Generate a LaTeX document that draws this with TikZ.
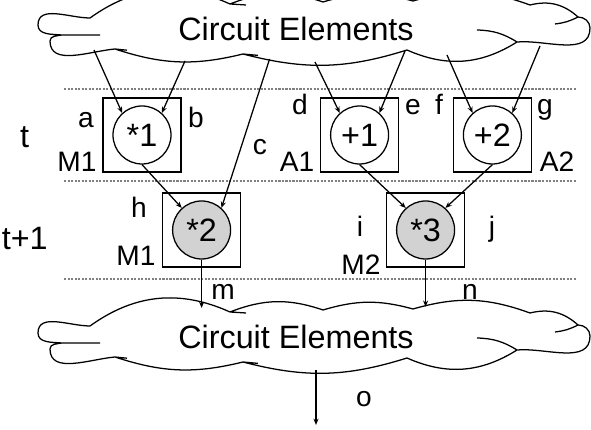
\documentclass[tikz,border=0pt]{standalone}
\usepackage{fontspec}
\setmainfont{Liberation Sans}
\usetikzlibrary{arrows.meta}

% outline of a flat cloud, round the origin
\newcommand{\cloudpath}{%
  (-5.85,-0.15) to[out=175,in=-90] (-6.45,0.1) to[out=90,in=180] (-5.15,0.275)
  to[bend left=30] (-1.65,0.625) to[bend left=20] (0.675,0.675)
  to[bend left=16] (2.925,0.7) to[bend left=18] (5.85,0.6)
  to[bend left=28] (7.05,0.3) to[out=0,in=90] (7.35,0.025)
  to[out=-90,in=5] (5.525,-0.325) to[bend left=28] (2.775,-0.525)
  to[bend left=16] (-1.325,-0.625) to[bend left=16] (-4.525,-0.5)
  to[out=185,in=-90] (-6.15,-0.3) to[out=90,in=190] (-5.85,-0.15)
  (-5.85,-0.15) -- (-4.9,-0.15)
  (7.05,0.3) to[bend left=10] (6.475,0.125)
  (5.525,-0.325) to[bend right=15] (4.525,-0.025)
  (-4.525,-0.5) -- (-4.225,-0.53)
  (-1.65,0.625) -- (-1.25,0.6)
  (-1.325,-0.625) -- (-0.95,-0.66)}

\begin{document}
\begin{tikzpicture}[line width=0.9pt, >={Stealth[length=4.5pt,width=3.6pt]},
  op/.style={circle, draw, minimum size=1.45cm, inner sep=0pt, font=\fontsize{23}{27}\selectfont},
  opbox/.style={draw, minimum width=1.95cm, minimum height=1.85cm},
  lbl/.style={anchor=base, font=\fontsize{20}{24}\selectfont},
  steplbl/.style={anchor=base, font=\fontsize{23}{27}\selectfont},
  ce/.style={inner sep=0pt, font=\fontsize{23}{27}\selectfont},
  level/.style={gray, line width=1pt, dash pattern=on 1.5pt off 1pt}]
  \useasboundingbox (0,0) rectangle (14.775,10.75);

  % clouds
  \node[ce] (top) at (7.4,10.025) {Circuit Elements};
  \node[ce] (bot) at (7.4,2.325) {Circuit Elements};
  \draw[shift={(top.center)}] \cloudpath;
  \draw[shift={(bot.center)}] \cloudpath;

  % time steps
  \draw[level] (1.6,8.525) -- (14.425,8.525);
  \draw[level] (1.6,6.225) -- (14.425,6.225);
  \draw[level] (1.6,3.775) -- (14.425,3.775);

  % functional units
  \node[opbox] (bm1) at (3.55,7.375) {};
  \node[opbox] (ba1) at (8.99,7.375) {};
  \node[opbox] (ba2) at (12.31,7.375) {};
  \node[opbox] (bm2) at (5.04,5.0) {};
  \node[opbox] (bm3) at (10.64,5.0) {};

  \node[op] (m1) at (3.55,7.375) {*1};
  \node[op] (a1) at (8.99,7.375) {+1};
  \node[op] (a2) at (12.31,7.375) {+2};
  \node[op, fill=gray!35] (m2) at (5.04,5.0) {*2};
  \node[op, fill=gray!35] (m3) at (10.64,5.0) {*3};

  % wire ends on the clouds
  \coordinate (s1) at (2.35,9.5);
  \coordinate (s2) at (4.625,9.225);
  \coordinate (s3) at (6.74,9.275);
  \coordinate (s4) at (7.875,9.2);
  \coordinate (s5) at (10.125,9.475);
  \coordinate (s6) at (11.175,9.375);
  \coordinate (s7) at (13.5,9.6);
  \coordinate (e1) at (5.04,3.05);
  \coordinate (e2) at (10.64,3.08);
  \coordinate (o1) at (7.9,1.5);
  \coordinate (o2) at (7.9,0.125);

  \draw[->] (s1) -- (m1.132);
  \draw[->] (s2) -- (m1.48);
  \draw[->] (s4) -- (a1.132);
  \draw[->] (s5) -- (a1.48);
  \draw[->] (s6) -- (a2.132);
  \draw[->] (s7) -- (a2.48);
  \draw[->] (m1.south) -- (m2.132);
  \draw[->] (s3) -- (m2.48);
  \draw[->] (a1.south) -- (m3.132);
  \draw[->] (a2.south) -- (m3.48);
  \draw[->] (m2.south) -- (e1);
  \draw[->] (m3.south) -- (e2);
  \draw[->] (o1) -- (o2);

  % labels
  \node[steplbl] (lt) at (0.6125,7.05) {t};
  \node[steplbl] (lt1) at (0.62,4.5) {t+1};
  \node[lbl] (la) at (2.15,7.55) {a};
  \node[lbl] (lb) at (4.9,7.55) {b};
  \node[lbl] (lc) at (6.5,6.875) {c};
  \node[lbl] (ld) at (7.5,7.875) {d};
  \node[lbl] (le) at (10.325,7.875) {e};
  \node[lbl] (lf) at (10.975,7.875) {f};
  \node[lbl] (lg) at (13.625,7.875) {g};
  \node[lbl] (lh) at (3.475,5.3) {h};
  \node[lbl] (li) at (9.0,4.825) {i};
  \node[lbl] (lj) at (12.3,4.825) {j};
  \node[lbl] (lm) at (5.575,3.25) {m};
  \node[lbl] (ln) at (11.75,3.25) {n};
  \node[lbl] (lo) at (9.1,0.575) {o};
  \node[lbl] (um1) at (1.925,6.45) {M1};
  \node[lbl] (ua1) at (7.425,6.45) {A1};
  \node[lbl] (ua2) at (13.925,6.45) {A2};
  \node[lbl] (um2) at (3.4,4.1) {M1};
  \node[lbl] (um3) at (9.025,3.875) {M2};
\end{tikzpicture}
\end{document}
